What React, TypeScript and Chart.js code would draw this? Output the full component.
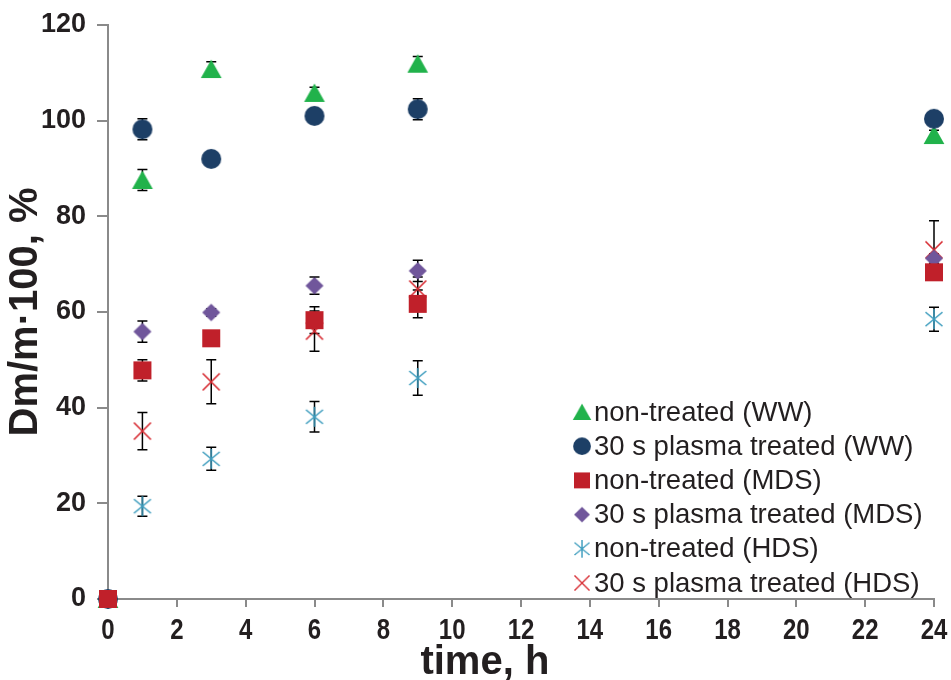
import React, { useEffect, useRef } from "react";
import { Chart, registerables } from "chart.js";

Chart.register(...registerables);

const TIMES = [0, 1, 3, 6, 9, 24];
const X_TICKS = [0, 2, 4, 6, 8, 10, 12, 14, 16, 18, 20, 22, 24];
const Y_TICKS = [0, 20, 40, 60, 80, 100, 120];
const X_TITLE = "time, h";
const Y_TITLE = "Dm/m·100, %";

const LABELS = [
  "non-treated (WW)",
  "30 s plasma treated (WW)",
  "non-treated (MDS)",
  "30 s plasma treated (MDS)",
  "non-treated (HDS)",
  "30 s plasma treated (HDS)",
];

const WW_NON = [0, 87.6, 110.8, 105.8, 111.9, 97.0];
const WW_PLASMA = [0, 98.2, 92.0, 101.0, 102.4, 100.4];
const MDS_NON = [0, 47.8, 54.5, 58.3, 61.7, 68.3];
const MDS_PLASMA = [0, 55.9, 59.9, 65.5, 68.6, 71.2];
const HDS_NON = [0, 19.4, 29.3, 38.1, 46.2, 58.5];
const HDS_PLASMA = [0, 35.1, 45.4, 56.0, 64.8, 73.0];

const ERR_WW_NON = [0, 2.2, 1.5, 1.2, 1.5, 1.0];
const ERR_WW_PLASMA = [0, 2.2, 0.8, 1.2, 2.2, 1.0];
const ERR_MDS_NON = [0, 2.2, 1.0, 2.8, 2.9, 1.5];
const ERR_MDS_PLASMA = [0, 2.2, 0.8, 1.8, 2.2, 1.0];
const ERR_HDS_NON = [0, 2.1, 2.4, 3.2, 3.6, 2.5];
const ERR_HDS_PLASMA = [0, 3.9, 4.6, 4.2, 2.5, 6.1];

const SERIES = [WW_NON, WW_PLASMA, MDS_NON, MDS_PLASMA, HDS_NON, HDS_PLASMA];
const ERRORS = [ERR_WW_NON, ERR_WW_PLASMA, ERR_MDS_NON, ERR_MDS_PLASMA, ERR_HDS_NON, ERR_HDS_PLASMA];
const KINDS = ["triangle", "circle", "square", "diamond", "asterisk", "cross"];
const COLORS = ["#21B24B", "#1D3F66", "#C0202A", "#70569B", "#3E9DBE", "#D7282F"];
const ORDERS = [2, 1, 0, 0, 1, 1];

const TEXT = "#231F20";
const AXIS = "#8A8A8A";

function makeMarker(kind: string, color: string): HTMLCanvasElement {
  const c = document.createElement("canvas");
  c.width = 26;
  c.height = 26;
  const g = c.getContext("2d")!;
  const m = 13;
  g.fillStyle = color;
  g.strokeStyle = color;
  g.lineWidth = 1.6;
  g.beginPath();
  if (kind === "triangle") {
    g.moveTo(m, m - 9.5);
    g.lineTo(m + 10.4, m + 9);
    g.lineTo(m - 10.4, m + 9);
    g.closePath();
    g.fill();
  } else if (kind === "circle") {
    g.arc(m, m, 10, 0, Math.PI * 2);
    g.fill();
  } else if (kind === "square") {
    g.rect(m - 9, m - 9, 18, 18);
    g.fill();
  } else if (kind === "diamond") {
    g.moveTo(m, m - 8.8);
    g.lineTo(m + 9, m);
    g.lineTo(m, m + 8.8);
    g.lineTo(m - 9, m);
    g.closePath();
    g.fill();
  } else if (kind === "asterisk") {
    g.moveTo(m, m - 10);
    g.lineTo(m, m + 10);
    g.moveTo(m - 8.5, m - 7);
    g.lineTo(m + 8.5, m + 7);
    g.moveTo(m - 8.5, m + 7);
    g.lineTo(m + 8.5, m - 7);
    g.stroke();
  } else {
    g.moveTo(m - 8.5, m - 8.5);
    g.lineTo(m + 8.5, m + 8.5);
    g.moveTo(m - 8.5, m + 8.5);
    g.lineTo(m + 8.5, m - 8.5);
    g.stroke();
  }
  return c;
}

const errorBarPlugin = {
  id: "errorBars",
  beforeDatasetsDraw(chart: any) {
    const { ctx } = chart;
    const xs = chart.scales.x;
    const ys = chart.scales.y;
    ctx.save();
    ctx.strokeStyle = "#000";
    ctx.lineWidth = 1.5;
    chart.data.datasets.forEach((ds: any, i: number) => {
      const errs = ERRORS[i];
      ds.data.forEach((pt: any, j: number) => {
        const e = errs[j];
        if (!e) return;
        const px = xs.getPixelForValue(pt.x);
        const top = ys.getPixelForValue(pt.y + e);
        const bot = ys.getPixelForValue(pt.y - e);
        ctx.beginPath();
        ctx.moveTo(px, top);
        ctx.lineTo(px, bot);
        ctx.moveTo(px - 5, top);
        ctx.lineTo(px + 5, top);
        ctx.moveTo(px - 5, bot);
        ctx.lineTo(px + 5, bot);
        ctx.stroke();
      });
    });
    ctx.restore();
  },
};

const xAxisTextPlugin = {
  id: "xAxisText",
  afterDraw(chart: any) {
    const { ctx, chartArea } = chart;
    const xs = chart.scales.x;
    ctx.save();
    ctx.fillStyle = TEXT;
    ctx.textAlign = "center";
    ctx.textBaseline = "middle";
    ctx.font = 'bold 30px "Liberation Sans", Arial, sans-serif';
    const y = chartArea.bottom + 32;
    X_TICKS.forEach((v) => {
      const px = xs.getPixelForValue(v);
      ctx.save();
      ctx.translate(px, y);
      ctx.scale(0.8, 1);
      ctx.fillText(String(v), 0, 0);
      ctx.restore();
    });
    ctx.textBaseline = "alphabetic";
    ctx.font = 'bold 40px "Liberation Sans", Arial, sans-serif';
    ctx.fillText(X_TITLE, xs.getPixelForValue(10.95), chartArea.bottom + 75);
    ctx.restore();
  },
};

const legendPlugin = {
  id: "insideLegend",
  afterDraw(chart: any) {
    const { ctx, chartArea } = chart;
    const mx = chartArea.right - 352;
    const y0 = chartArea.bottom - 187;
    const step = 34.2;
    ctx.save();
    ctx.font = '27.5px "Liberation Sans", Arial, sans-serif';
    ctx.fillStyle = TEXT;
    ctx.textBaseline = "middle";
    ctx.textAlign = "left";
    chart.data.datasets.forEach((ds: any, i: number) => {
      const y = y0 + i * step;
      const img = ds.pointStyle as HTMLCanvasElement;
      ctx.drawImage(img, mx - 11.5, y - 11.5, 23, 23);
      ctx.fillText(ds.label, mx + 12, y + 1);
    });
    ctx.restore();
  },
};

export default function App() {
  const ref = useRef<HTMLCanvasElement | null>(null);

  useEffect(() => {
    if (!ref.current) return;
    const datasets = SERIES.map((vals, i) => ({
      label: LABELS[i],
      data: TIMES.map((t, j) => ({ x: t, y: vals[j] })),
      pointStyle: makeMarker(KINDS[i], COLORS[i]),
      backgroundColor: COLORS[i],
      borderColor: COLORS[i],
      showLine: false,
      clip: false as any,
      order: ORDERS[i],
    }));

    const chart = new Chart(ref.current, {
      type: "scatter",
      data: { datasets },
      options: {
        animation: false,
        responsive: true,
        maintainAspectRatio: false,
        events: [],
        layout: { padding: { top: 25, right: 17, left: 0, bottom: 0 } },
        plugins: {
          legend: { display: false },
          tooltip: { enabled: false },
        },
        scales: {
          x: {
            type: "linear",
            min: 0,
            max: 24,
            afterFit: (s: any) => {
              s.height = 81;
            },
            afterBuildTicks: (s: any) => {
              s.ticks = X_TICKS.map((v) => ({ value: v }));
            },
            ticks: { display: false },
            grid: { drawOnChartArea: false, drawTicks: true, tickLength: 8, color: AXIS, lineWidth: 2 },
            border: { color: AXIS, width: 2 },
            title: { display: false },
          },
          y: {
            type: "linear",
            min: 0,
            max: 120,
            afterFit: (s: any) => {
              s.width = 108;
            },
            afterBuildTicks: (s: any) => {
              s.ticks = Y_TICKS.map((v) => ({ value: v }));
            },
            ticks: {
              color: TEXT,
              padding: 11,
              font: { family: '"Liberation Sans", Arial', weight: "bold", size: 27, lineHeight: 1 },
            },
            grid: { drawOnChartArea: false, drawTicks: true, tickLength: 11, color: AXIS, lineWidth: 2 },
            border: { color: AXIS, width: 2 },
            title: {
              display: true,
              text: Y_TITLE,
              color: TEXT,
              font: { family: '"Liberation Sans", Arial', weight: "bold", size: 40, lineHeight: 1.1 },
              padding: { top: 4, bottom: 0 },
            },
          },
        },
      },
      plugins: [errorBarPlugin, xAxisTextPlugin, legendPlugin],
    });
    return () => chart.destroy();
  }, []);

  return (
    <div style={{ position: "fixed", left: 0, top: 0, width: "951px", height: "680px", background: "#fff" }}>
      <canvas ref={ref} />
    </div>
  );
}
